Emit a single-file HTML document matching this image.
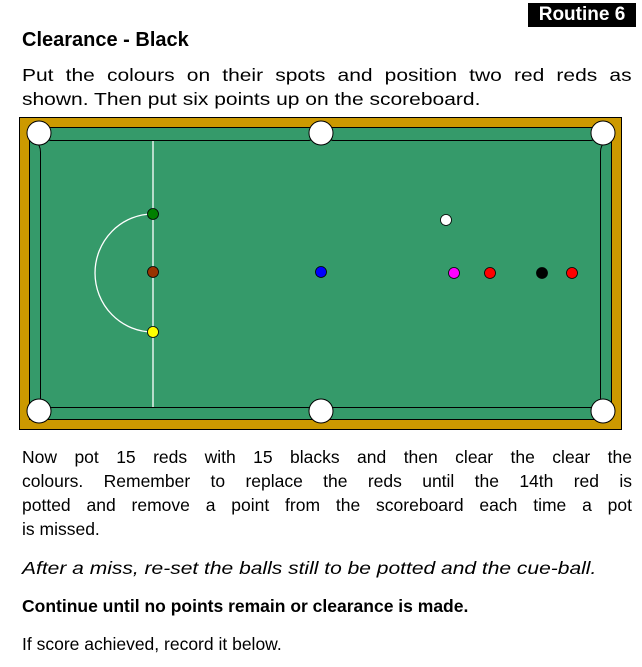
<!DOCTYPE html>
<html><head><meta charset="utf-8"><style>
body{margin:0;width:642px;height:667px;background:#fff;position:relative;overflow:hidden;font-family:"Liberation Sans",Arial,sans-serif;color:#000}
.a{position:absolute;left:22px;width:610px;font-size:17.5px;line-height:24px;white-space:nowrap}
.j{text-align:justify;text-align-last:justify}
.w{transform:scaleX(1.2);transform-origin:0 0;width:508px}
.tag{position:absolute;left:528px;top:3px;width:108px;height:24px;background:#000;color:#fff;font-weight:bold;font-size:19px;line-height:24px;text-align:center}
</style></head><body>
<div class="tag">Routine 6</div>
<div class="a" style="top:28px;font-weight:bold;font-size:20px">Clearance - Black</div>
<div class="a j w" style="top:63px">Put the colours on their spots and position two red reds as</div>
<div class="a w" style="top:87px">shown. Then put six points up on the scoreboard.</div>
<svg style="position:absolute;left:0;top:0" width="642" height="667">
<rect x="19.5" y="117.5" width="602" height="312" fill="#cc9900" stroke="#000"/>
<rect x="29.5" y="127.5" width="582" height="292" fill="#359a6a" stroke="#000"/>
<path d="M52 140.5H308M334 140.5H590M40.5 152V398M600.5 152V398M52 407.5H308M334 407.5H590" stroke="#000" fill="none"/>
<path d="M40.5 152Q40.5 145 35 141M600.5 152Q600.5 145 606 141M40.5 398Q40.5 405 35 408M600.5 398Q600.5 405 606 408M52 140.5Q46 140.5 45 134M590 140.5Q596 140.5 597 134M308 140.5Q313 140.5 314 134M334 140.5Q329 140.5 328 134M52 407.5Q46 407.5 45 414M590 407.5Q596 407.5 597 414M308 407.5Q313 407.5 314 414M334 407.5Q329 407.5 328 414" stroke="#000" fill="none"/>
<line x1="153" y1="141" x2="153" y2="407" stroke="#fff" stroke-width="1.3"/>
<path d="M153 214A57 58 0 0 0 153 332" stroke="#fff" fill="none" stroke-width="1.3"/>
<g fill="#fff" stroke="#000">
<circle cx="39" cy="133" r="12"/><circle cx="321" cy="133" r="12"/><circle cx="603" cy="133" r="12"/>
<circle cx="39" cy="411" r="12"/><circle cx="321" cy="411" r="12"/><circle cx="603" cy="411" r="12"/>
</g>
<g stroke="#000" stroke-width="0.8">
<circle cx="153" cy="214" r="5.5" fill="#008000"/>
<circle cx="153" cy="272" r="5.5" fill="#993300"/>
<circle cx="153" cy="332" r="5.5" fill="#ffff00"/>
<circle cx="321" cy="272" r="5.5" fill="#0000ff"/>
<circle cx="446" cy="220" r="5.5" fill="#fff"/>
<circle cx="454" cy="273" r="5.5" fill="#ff00ff"/>
<circle cx="490" cy="273" r="5.5" fill="#ff0000"/>
<circle cx="542" cy="273" r="5.5" fill="#000"/>
<circle cx="572" cy="273" r="5.5" fill="#ff0000"/>
</g>
</svg>
<div class="a j" style="top:445px">Now pot 15 reds with 15 blacks and then clear the clear the</div>
<div class="a j" style="top:469px">colours. Remember to replace the reds until the 14th red is</div>
<div class="a j" style="top:493px">potted and remove a point from the scoreboard each time a pot</div>
<div class="a" style="top:517px">is missed.</div>
<div class="a" style="top:556px;font-style:italic;transform:scaleX(1.2);transform-origin:0 0">After a miss, re-set the balls still to be potted and the cue-ball.</div>
<div class="a" style="top:594px;font-weight:bold">Continue until no points remain or clearance is made.</div>
<div class="a" style="top:632px">If score achieved, record it below.</div>
</body></html>
